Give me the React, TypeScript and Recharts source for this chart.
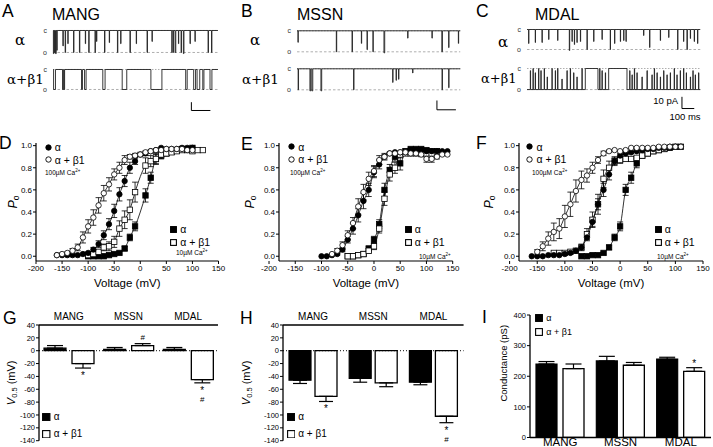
import React from 'react';
import {
  LineChart,
  Line,
  ComposedChart,
  Scatter,
  BarChart,
  Bar,
  XAxis,
  YAxis,
  ErrorBar,
  ReferenceLine,
  Legend,
  LabelList,
} from 'recharts';

const SANS = '"Liberation Sans", Arial, Helvetica, sans-serif';
const NARROW = '"Liberation Sans Narrow", "Liberation Sans", Arial, sans-serif';
const SERIF = '"DejaVu Serif", "Liberation Serif", serif';

// single-channel records: [start ms, duration ms, fraction of unitary step]
const mangAlphaEv = [[2, 3, 1.05], [8, 3, 1], [13, 4, 1.05], [20, 2, 0.9], [52, 2, 0.7], [64, 2, 1], [78, 1.5, 0.6], [108, 2, 1], [139, 2, 1], [170, 1.5, 0.6], [188, 2, 1], [221, 2, 1], [229, 1.5, 0.5], [271, 2, 1], [296, 1.5, 0.55], [339, 2, 1], [356, 1.5, 0.6], [405, 2, 1], [438, 1.5, 0.6], [495, 2, 1], [521, 1.5, 0.5], [625, 2, 1], [633, 2, 1], [643, 3, 1], [660, 1.5, 0.6], [674, 2, 1], [686, 3, 1.05], [721, 1.5, 0.6], [747, 1.5, 0.5], [816, 2, 1], [834, 2, 1]];
const mangBetaEv = [[3, 10, 1], [50, 6, 1], [58, 3, 1], [150, 5, 1], [166, 8, 1], [262, 12, 1], [364, 24, 1], [515, 58, 1], [698, 8, 1], [740, 10, 1], [758, 14, 1], [788, 6, 1], [826, 10, 1]];
const mssnAlphaEv = [[5, 1.5, 0.55], [207, 2, 1], [290, 2, 1], [339, 1.5, 0.6], [369, 1.5, 0.9], [400, 1.5, 1], [458, 4, 1.05], [583, 1.5, 0.35], [711, 1.5, 0.35], [763, 3, 1], [799, 1.5, 0.8], [850, 1.5, 0.6]];
const mssnBetaEv = [[6, 2, 1], [68, 4, 1.05], [78, 5, 1.05], [126, 4, 1.05], [298, 2, 1], [504, 1.5, 0.65], [522, 1.5, 0.55], [535, 1.5, 0.5], [609, 1.5, 0.2], [764, 2, 1], [799, 1.5, 0.9]];
const mdalAlphaEv = [[13, 2, 0.7], [67, 2, 0.65], [122, 2, 0.65], [176, 2, 0.5], [249, 2, 0.55], [344, 3, 1.05], [366, 2, 0.6], [385, 2, 0.75], [406, 2, 0.65], [434, 2, 0.6], [488, 2, 1], [542, 2, 0.6], [610, 2, 0.5], [677, 2, 1], [712, 2, 0.7], [759, 2, 0.6], [786, 2, 0.55], [805, 2, 0.6], [948, 2, 0.3], [997, 2, 0.9], [1084, 2, 0.55], [1152, 2, 0.4], [1225, 2, 1], [1273, 2, 0.6], [1301, 3, 1], [1328, 2, 0.45], [1360, 2, 0.6], [1387, 2, 0.7]];
// mostly open: these are closures
const mdalBetaEv = [[27, 2, 0.9], [49, 2, 1], [67, 2, 0.8], [94, 2, 1], [113, 2, 0.9], [140, 2, 1], [164, 2, 0.6], [203, 2, 1], [230, 2, 0.9], [249, 2, 1], [284, 2, 0.5], [325, 2, 0.9], [352, 2, 1], [379, 2, 0.8], [406, 2, 0.6], [447, 2, 1], [474, 103, 1], [591, 2, 1], [610, 2, 0.9], [637, 2, 0.8], [664, 149, 1], [835, 2, 0.9], [854, 2, 0.7], [873, 2, 1], [894, 2, 0.8], [935, 2, 0.6], [976, 2, 0.9], [1016, 2, 0.7], [1035, 2, 1], [1057, 2, 0.8], [1084, 2, 0.6], [1111, 2, 0.9], [1138, 2, 0.7], [1165, 2, 0.8], [1197, 2, 1], [1219, 2, 0.7], [1246, 2, 0.9], [1273, 2, 1], [1295, 2, 0.8], [1328, 2, 0.6], [1349, 2, 0.9], [1368, 2, 0.7], [1395, 2, 0.8]];

// unitary amplitudes (pA) and record lengths (ms)
const ampMang = [26.5, 24.1];
const ampMssn = [22.6, 22.6];
const ampMdal = [17.1, 18];
const recMang = 868;
const recMssn = 860;
const recMdal = 1409;

// Po-V: [mV, Po, sem]
const dAlpha100 = [[-160, .01, 0], [-150, .01, 0], [-140, .01, 0], [-130, .01, 0], [-120, .01, 0], [-110, .02, 0], [-100, .03, .01], [-90, .06, .02], [-80, .11, .03], [-70, .19, .04], [-60, .29, .05], [-50, .41, .06], [-40, .56, .06], [-30, .68, .05], [-20, .8, .05], [-10, .86, .03], [0, .92, .02], [10, .93, .02], [20, .95, .01], [30, .96, .01], [40, .98, 0], [50, .97, 0], [60, .97, 0], [70, .97, 0], [80, .98, 0], [90, .98, 0], [100, .98, 0]];
const dBeta100 = [[-160, .01, 0], [-150, .02, .01], [-140, .03, .01], [-130, .05, .02], [-120, .08, .03], [-110, .17, .05], [-100, .27, .06], [-90, .35, .07], [-80, .46, .07], [-70, .57, .07], [-60, .65, .06], [-50, .74, .05], [-40, .8, .05], [-30, .87, .04], [-20, .9, .02], [-10, .91, .02], [0, .92, .01], [10, .94, .01], [20, .95, .01], [30, .96, 0], [40, .96, 0], [50, .97, 0], [60, .97, 0], [70, .97, 0], [80, .97, 0], [90, .96, 0], [100, .96, 0]];
const dAlpha10 = [[-100, 0, 0], [-90, 0, 0], [-80, 0, 0], [-70, 0, 0], [-60, .01, 0], [-50, .02, 0], [-40, .03, .01], [-30, .07, .02], [-20, .17, .03], [-10, .27, .04], [10, .55, .06], [20, .71, .05], [30, .88, .04], [40, .91, .03], [50, .93, .02], [60, .95, .01], [70, .96, .01], [80, .97, 0], [90, .97, 0], [100, .98, 0]];
const dBeta10 = [[-100, .01, 0], [-90, .02, .01], [-80, .04, .02], [-70, .08, .03], [-60, .09, .04], [-50, .13, .05], [-40, .25, .07], [-30, .33, .08], [-20, .42, .09], [-10, .58, .09], [10, .82, .07], [20, .86, .05], [30, .88, .05], [40, .92, .03], [50, .93, .02], [60, .94, .02], [70, .95, .01], [80, .96, .01], [90, .96, 0], [100, .95, 0], [110, .96, 0], [120, .96, 0]];

const eAlpha100 = [[-100, 0, 0], [-90, 0, 0], [-80, .01, 0], [-70, .02, .01], [-60, .06, .02], [-50, .15, .03], [-40, .25, .05], [-30, .37, .06], [-20, .5, .07], [-10, .6, .06], [0, .76, .05], [10, .83, .04], [20, .9, .03], [30, .93, .01], [40, .94, 0], [50, .94, 0], [60, .94, 0], [70, .95, 0], [80, .95, 0], [90, .96, 0], [100, .95, 0], [110, .95, 0], [120, .95, 0], [130, .95, 0], [140, .95, 0]];
const eBeta100 = [[-80, .02, 0], [-70, .05, .02], [-60, .1, .03], [-50, .19, .04], [-40, .3, .05], [-30, .45, .07], [-20, .58, .07], [-10, .7, .06], [0, .77, .05], [10, .87, .04], [20, .9, .02], [30, .93, .01], [40, .93, 0], [50, .94, 0], [60, .94, 0], [70, .93, 0], [80, .93, .01], [90, .92, .02], [100, .88, .03], [110, .88, .03], [120, .9, .02], [130, .92, .01], [140, .92, 0]];
const eAlpha10 = [[-50, 0, 0], [-40, 0, 0], [-30, .01, 0], [-20, .02, .01], [-10, .07, .02], [0, .15, .03], [10, .29, .04], [20, .6, .06], [30, .78, .05], [40, .9, .04], [50, .84, .06], [60, .95, .02], [70, .97, .01], [80, .97, 0], [90, .97, 0], [100, .96, 0], [110, .95, 0], [120, .95, 0]];
const eBeta10 = [[-50, 0, 0], [-40, 0, 0], [-30, .01, 0], [-20, .02, .01], [-10, .05, .02], [0, .09, .03], [10, .25, .04], [20, .52, .06], [30, .74, .06], [40, .8, .05], [50, .92, .03], [60, .93, .02], [70, .93, .01], [80, .93, 0], [90, .94, 0], [100, .93, 0], [110, .93, 0], [120, .93, 0]];

const fAlpha100 = [[-160, 0, 0], [-150, 0, 0], [-140, 0, 0], [-130, .01, 0], [-120, .01, 0], [-110, .01, 0], [-100, .02, 0], [-90, .03, .01], [-80, .05, .01], [-70, .08, .02], [-60, .17, .03], [-50, .31, .04], [-40, .47, .05], [-30, .6, .06], [-20, .74, .05], [-10, .86, .03], [0, .91, .02], [10, .93, .01], [20, .94, .01], [30, .95, 0], [40, .96, 0], [50, .97, 0], [60, .97, 0], [70, .98, 0], [80, .98, 0], [90, .99, 0], [100, .99, 0], [110, .99, 0]];
const fBeta100 = [[-150, .04, .02], [-140, .09, .04], [-130, .16, .06], [-120, .22, .08], [-110, .25, .09], [-100, .36, .1], [-90, .47, .11], [-80, .59, .1], [-70, .69, .08], [-60, .73, .06], [-50, .8, .05], [-40, .87, .03], [-30, .93, .02], [-20, .95, .01], [-10, .96, 0], [0, .95, 0], [10, .96, 0], [20, .98, 0], [30, .98, 0], [40, .98, 0], [50, .98, 0], [60, .98, 0], [70, .99, 0], [80, .99, 0], [90, .99, 0], [100, .99, 0], [110, .99, 0]];
const fAlpha10 = [[-70, 0, 0], [-60, 0, 0], [-50, .01, 0], [-40, .01, 0], [-30, .03, .01], [-20, .08, .02], [-10, .17, .03], [0, .27, .04], [10, .6, .05], [20, .71, .05], [30, .84, .04], [40, .91, .02], [50, .93, .01], [60, .95, 0], [70, .96, 0], [80, .97, 0], [90, .98, 0], [100, .99, 0], [110, .99, 0]];
const fBeta10 = [[-120, .03, 0], [-110, .03, 0], [-100, .03, 0], [-90, .04, .01], [-80, .05, .02], [-70, .08, .03], [-60, .2, .05], [-50, .33, .07], [-40, .47, .09], [-30, .7, .08], [-20, .8, .06], [-10, .86, .04], [0, .87, .03], [10, .88, .02], [20, .88, .02], [30, .89, .01], [40, .91, 0], [50, .93, 0], [60, .95, 0], [70, .96, 0], [80, .97, 0]];

const vTicks = [-200, -150, -100, -50, 0, 50, 100, 150];
const poTicks = [0, 0.2, 0.4, 0.6, 0.8, 1.0];

// bar panels
const cats = ['MANG', 'MSSN', 'MDAL'];
const gAlpha = [4, 2, 2];
const gAlphaSem = [4, 3, 3];
const gBeta = [-20, 8, -45];
const gBetaSem = [7, 3, 5];
const gMarks = ['*', '#', '*#'];
const hAlpha = [-46, -43, -49];
const hAlphaSem = [5, 6, 4];
const hBeta = [-71, -50, -102];
const hBetaSem = [8, 6, 10];
const hMarks = ['*', '', '*#'];
const iAlpha = [240, 250, 256];
const iAlphaSem = [8, 15, 6];
const iBeta = [225, 236, 216];
const iBetaSem = [15, 9, 12];
const iMarks = ['', '', '*'];
const vTicks05 = [40, 20, 0, -20, -40, -60, -80, -100, -120, -140];
const gTicks = [0, 100, 200, 300, 400];

const buildTrace = (events: number[][], amp: number, T: number, openBase: boolean) => {
  const base = openBase ? -amp : 0;
  const dir = openBase ? 1 : -1;
  const pts = [{ t: 0, i: base }];
  events.forEach(([t, d, f]) => {
    const lvl = base + dir * f * amp;
    pts.push({ t, i: base }, { t, i: lvl }, { t: t + d, i: lvl }, { t: t + d, i: base });
  });
  pts.push({ t: T, i: base });
  return pts;
};

const Trace = ({ left, width, yc, ppu, amp, T, events, openBase = false, bar, padBot = 4 }: any) => {
  const padTop = 3;
  const ml = 16;
  const data = buildTrace(events, amp, T, openBase);
  const lvl = { fontSize: 7, fill: '#333', fontFamily: SANS };
  return (
    <div style={{ position: 'absolute', left: left - ml, top: yc - padTop * ppu }}>
      <LineChart width={width + ml + 1} height={(amp + padTop + padBot) * ppu} data={data} margin={{ top: 0, right: 1, bottom: 0, left: ml }}>
        <XAxis type="number" dataKey="t" domain={[0, T]} hide />
        <YAxis type="number" domain={[-(amp + padBot), padTop]} hide />
        <ReferenceLine y={0} stroke="#9a9a9a" strokeWidth={0.8} strokeDasharray="1.5 1.5" label={{ value: 'c', position: 'left', offset: 6, ...lvl }} />
        <ReferenceLine y={-amp} stroke="#9a9a9a" strokeWidth={0.8} strokeDasharray="2.5 2" label={{ value: 'o', position: 'left', offset: 6, ...lvl }} />
        <Line type="linear" dataKey="i" stroke="#222" strokeWidth={0.9} dot={false} isAnimationActive={false} />
        {bar && <ReferenceLine segment={[{ x: bar[0], y: bar[1] + 10 }, { x: bar[0], y: bar[1] }]} stroke="#000" strokeWidth={1} />}
        {bar && <ReferenceLine segment={[{ x: bar[0], y: bar[1] }, { x: bar[0] + 100, y: bar[1] }]} stroke="#000" strokeWidth={1} />}
      </LineChart>
    </div>
  );
};

const toPts = (rows: number[][]) => rows.map(([v, p, e]) => ({ v, p, e }));

const marker = (kind: string) => (props: any) => {
  const { cx, cy } = props;
  if (cx == null || cy == null) return null;
  const fill = kind[0] === 'f' ? '#000' : '#fff';
  if (kind[1] === 'c') return <circle cx={cx} cy={cy} r={2.7} fill={fill} stroke="#000" strokeWidth={0.8} />;
  return <rect x={cx - 2.7} y={cy - 2.7} width={5.4} height={5.4} fill={fill} stroke="#000" strokeWidth={0.8} />;
};

const Sym = ({ kind, s }: { kind: string; s: number }) => {
  const fill = kind[0] === 'f' ? '#000' : '#fff';
  return (
    <svg width={s + 1} height={s + 1} style={{ display: 'block', flex: 'none' }}>
      {kind[1] === 'c'
        ? <circle cx={(s + 1) / 2} cy={(s + 1) / 2} r={s / 2 - 0.3} fill={fill} stroke="#000" strokeWidth={0.9} />
        : <rect x={0.6} y={0.6} width={s - 0.2} height={s - 0.2} fill={fill} stroke="#000" strokeWidth={1.1} />}
    </svg>
  );
};

const Item = ({ x, y, kind, text, s = 6, fs = 10.5 }: any) => (
  <div style={{ position: 'absolute', left: x - (s + 1) / 2, top: y - 6, height: 12, display: 'flex', alignItems: 'center', whiteSpace: 'nowrap', fontFamily: SANS, fontSize: fs, lineHeight: '12px', color: '#000' }}>
    <Sym kind={kind} s={s} />
    <span style={{ marginLeft: 3 }}>{text}</span>
  </div>
);

const Ca = ({ x, y, conc }: any) => (
  <div style={{ position: 'absolute', left: x, top: y - 5, height: 10, lineHeight: '10px', whiteSpace: 'nowrap', fontFamily: NARROW, fontSize: 6.5, color: '#000' }}>
    {conc}µM Ca<sup style={{ fontSize: 4.5, verticalAlign: 'top', lineHeight: '6px' }}>2+</sup>
  </div>
);

const PoLegend = ({ c, ca, s, cs }: any) => (
  <div style={{ position: 'relative', width: '100%', height: '100%' }}>
    <Item x={c[0]} y={c[1]} kind="fc" text="α" />
    <Item x={c[0]} y={c[1] + 12.5} kind="oc" text="α + β1" />
    <Ca x={ca[0]} y={ca[1]} conc="100" />
    <Item x={s[0]} y={s[1]} kind="fs" text="α" />
    <Item x={s[0]} y={s[1] + 12.8} kind="os" text="α + β1" />
    <Ca x={cs[0]} y={cs[1]} conc="10" />
  </div>
);

const PoLabel = (off: number) => (props: any) => {
  const vb = props.viewBox;
  if (!vb) return null;
  const x = vb.x + vb.width - off;
  const y = vb.y + vb.height / 2;
  return (
    <text x={x} y={y} transform={`rotate(-90 ${x} ${y})`} textAnchor="middle" dominantBaseline="central" fontFamily={SANS} fontSize={12.5} fill="#000">
      <tspan fontStyle="italic">P</tspan>
      <tspan fontSize={8.5} dy={3}>o</tspan>
    </text>
  );
};

const PY = 143;
const PH = 118;

const PoV = ({ px, pw, xMin, sets, poOff, leg }: any) => {
  const yw = 44;
  const mt = 4;
  const mr = 10;
  const xh = 33;
  const tick = { fontSize: 8, fill: '#000', fontFamily: NARROW };
  return (
    <div style={{ position: 'absolute', left: px - yw, top: PY - mt }}>
      <ComposedChart width={yw + pw + mr} height={mt + PH + xh} margin={{ top: mt, right: mr, bottom: 0, left: 0 }}>
        <XAxis type="number" dataKey="v" domain={[xMin, 150]} allowDataOverflow ticks={vTicks} interval={0} height={xh} tickSize={3} tickMargin={1} axisLine={{ stroke: '#000', strokeWidth: 1.2 }} tickLine={{ stroke: '#000', strokeWidth: 1 }} tick={tick} label={{ value: 'Voltage (mV)', position: 'insideBottom', offset: 7, fontSize: 11.5, fill: '#000', fontFamily: NARROW }} />
        <YAxis type="number" dataKey="p" domain={[-0.043, 1.024]} allowDataOverflow ticks={poTicks} interval={0} width={yw} tickSize={3} tickMargin={1} tickFormatter={(t: number) => t.toFixed(1)} axisLine={{ stroke: '#000', strokeWidth: 1.2 }} tickLine={{ stroke: '#000', strokeWidth: 1 }} tick={tick} label={PoLabel(poOff)} />
        {sets.map((st: any, k: number) => (
          <Scatter key={k} data={toPts(st.rows)} dataKey="p" shape={marker(st.kind)} line={{ stroke: '#000', strokeWidth: 0.8 }} lineJointType="monotoneX" isAnimationActive={false}>
            <ErrorBar dataKey="e" direction="y" width={3} stroke="#000" strokeWidth={0.8} />
          </Scatter>
        ))}
        <Legend verticalAlign="middle" align="center" layout="horizontal" wrapperStyle={{ left: yw, top: mt, width: pw, height: PH }} content={() => <PoLegend {...leg} />} />
      </ComposedChart>
    </div>
  );
};

const oneSided = (v: number, e: number) => (v < 0 ? [e, 0] : [0, e]);
const barRows = (a: number[], ea: number[], b: number[], eb: number[], marks: string[]) =>
  cats.map((cat, k) => ({ cat, a: a[k], b: b[k], ea: oneSided(a[k], ea[k]), eb: oneSided(b[k], eb[k]), mb: marks[k] }));

const markContent = (rows: any[]) => (props: any) => {
  const row = rows[props.index];
  if (!row || !row.mb) return null;
  const vb = props.viewBox && props.viewBox.width != null ? props.viewBox : props;
  const top = Math.min(vb.y, vb.y + vb.height);
  const bot = Math.max(vb.y, vb.y + vb.height);
  const v = row.b;
  const ppu = (bot - top) / Math.abs(v);
  const e = Math.max(row.eb[0], row.eb[1]);
  const down = v < 0;
  const start = down ? bot + e * ppu + 5.5 : top - e * ppu - 6.5;
  return (
    <g>
      {row.mb.split('').map((ch: string, k: number) => {
        const cy = down ? start + k * 10.5 : start - k * 10.5;
        const fs = ch === '*' ? 10 : 8;
        const base = cy + (ch === '*' ? 0.55 * fs : 0.36 * fs);
        return (
          <text key={k} x={vb.x + vb.width / 2} y={base} textAnchor="middle" fontSize={fs} fontFamily={SANS} fill="#000">
            {ch}
          </text>
        );
      })}
    </g>
  );
};

const V05Label = (off: number) => (props: any) => {
  const vb = props.viewBox;
  if (!vb) return null;
  const x = vb.x + vb.width - off;
  const y = vb.y + vb.height / 2;
  return (
    <text x={x} y={y} transform={`rotate(-90 ${x} ${y})`} textAnchor="middle" dominantBaseline="central" fontFamily={SANS} fontSize={11} fill="#000">
      <tspan fontStyle="italic">V</tspan>
      <tspan fontSize={7.5} dy={3}>0.5</tspan>
      <tspan dy={-3}> (mV)</tspan>
    </text>
  );
};

const GLabel = (off: number, dy: number) => (props: any) => {
  const vb = props.viewBox;
  if (!vb) return null;
  const x = vb.x + vb.width - off;
  const y = vb.y + vb.height / 2 + dy;
  return (
    <text x={x} y={y} transform={`rotate(-90 ${x} ${y})`} textAnchor="middle" dominantBaseline="central" fontFamily={SANS} fontSize={9.5} fill="#000">
      Conductance (pS)
    </text>
  );
};

const BarLegend = ({ p, s, fs }: any) => (
  <div style={{ position: 'relative', width: '100%', height: '100%' }}>
    <Item x={p[0][0]} y={p[0][1]} kind="fs" text="α" s={s} fs={fs} />
    <Item x={p[1][0]} y={p[1][1]} kind="os" text="α + β1" s={s} fs={fs} />
  </div>
);

const BarPanel = ({ px, py, pw, ph, rows, domain, ticks, size, gap, topAxis, label, leg, legS, legFs, errW }: any) => {
  const yw = 46;
  const mt = topAxis ? 2 : 5;
  const xh = topAxis ? 14 : 10;
  const mr = 2;
  const mb = topAxis ? 6 : 0;
  const top = topAxis ? py - xh - mt : py - mt;
  const ax = { stroke: '#000', strokeWidth: 1.3 };
  return (
    <div style={{ position: 'absolute', left: px - yw, top }}>
      <BarChart width={yw + pw + mr} height={mt + ph + xh + mb} data={rows} margin={{ top: mt, right: mr, bottom: mb, left: 0 }} barSize={size} barGap={gap}>
        <XAxis dataKey="cat" orientation={topAxis ? 'top' : 'bottom'} height={xh} interval={0} tickLine={false} tickSize={0} tickMargin={topAxis ? 4.5 : 0.5} axisLine={ax} tick={{ fill: '#000', fontSize: topAxis ? 10 : 11.5, fontFamily: topAxis ? NARROW : SANS }} />
        <YAxis type="number" domain={domain} allowDataOverflow ticks={ticks} interval={0} width={yw} tickSize={3} tickMargin={1} axisLine={ax} tickLine={{ stroke: '#000' }} tick={{ fill: '#000', fontSize: 7.5, fontFamily: NARROW }} label={label} />
        {topAxis && <ReferenceLine y={0} stroke="#000" strokeWidth={1} strokeDasharray="1 2" />}
        <Bar dataKey="a" fill="#000" stroke="#000" strokeWidth={1.2} isAnimationActive={false}>
          <ErrorBar dataKey="ea" direction="y" width={errW} stroke="#000" strokeWidth={1.2} />
        </Bar>
        <Bar dataKey="b" fill="#fff" stroke="#000" strokeWidth={1.3} isAnimationActive={false}>
          <ErrorBar dataKey="eb" direction="y" width={errW} stroke="#000" strokeWidth={1.2} />
          <LabelList dataKey="mb" content={markContent(rows)} />
        </Bar>
        <Legend verticalAlign="middle" align="center" layout="horizontal" wrapperStyle={{ left: yw, top: topAxis ? mt + xh : mt, width: pw, height: ph + mb }} content={() => <BarLegend p={leg} s={legS} fs={legFs} />} />
      </BarChart>
    </div>
  );
};

export default function App() {
  const gRows = barRows(gAlpha, gAlphaSem, gBeta, gBetaSem, gMarks);
  const hRows = barRows(hAlpha, hAlphaSem, hBeta, hBetaSem, hMarks);
  const iRows = barRows(iAlpha, iAlphaSem, iBeta, iBetaSem, iMarks);
  const letter = { fontSize: 17.5, fontFamily: SANS, fill: '#000' };
  const title = { fontSize: 16, fontFamily: SANS, fill: '#000' };
  const greek = { fontFamily: SERIF, fill: '#000' };
  return (
    <div style={{ position: 'absolute', left: 0, top: 0, width: 713, height: 447, background: '#fff', overflow: 'hidden' }}>
      {/* A */}
      <Trace left={53.3} width={165} yc={30} ppu={0.83} amp={ampMang[0]} T={recMang} events={mangAlphaEv} />
      <Trace left={53.3} width={165} yc={69} ppu={0.83} amp={ampMang[1]} T={recMang} events={mangBetaEv} bar={[728, -49.4]} padBot={27.5} />
      {/* B */}
      <Trace left={296.7} width={163.3} yc={30.7} ppu={0.93} amp={ampMssn[0]} T={recMssn} events={mssnAlphaEv} />
      <Trace left={296.7} width={163.3} yc={68.3} ppu={0.93} amp={ampMssn[1]} T={recMssn} events={mssnBetaEv} bar={[737, -44.1]} padBot={23.5} />
      {/* C */}
      <Trace left={526.7} width={173.3} yc={30} ppu={1.17} amp={ampMdal[0]} T={recMdal} events={mdalAlphaEv} />
      <Trace left={526.7} width={173.3} yc={68.3} ppu={1.17} amp={ampMdal[1]} T={recMdal} events={mdalBetaEv} openBase bar={[1260, -34.2]} padBot={18} />

      <PoV px={35.5} pw={182.5} xMin={-200} poOff={23.5}
        sets={[{ rows: dAlpha10, kind: 'fs' }, { rows: dBeta10, kind: 'os' }, { rows: dAlpha100, kind: 'fc' }, { rows: dBeta100, kind: 'oc' }]}
        leg={{ c: [12.8, 4.3], ca: [9.5, 29.7], s: [138.2, 86.3], cs: [140.5, 109.5] }} />
      <PoV px={279.3} pw={173.7} xMin={-181} poOff={28.5}
        sets={[{ rows: eAlpha10, kind: 'fs' }, { rows: eBeta10, kind: 'os' }, { rows: eAlpha100, kind: 'fc' }, { rows: eBeta100, kind: 'oc' }]}
        leg={{ c: [12.4, 3.7], ca: [10.7, 29.7], s: [129, 86.3], cs: [139.7, 113.7] }} />
      <PoV px={519.3} pw={184} xMin={-183} poOff={30.5}
        sets={[{ rows: fAlpha10, kind: 'fs' }, { rows: fBeta10, kind: 'os' }, { rows: fAlpha100, kind: 'fc' }, { rows: fBeta100, kind: 'oc' }]}
        leg={{ c: [10.7, 3.7], ca: [12.7, 29.7], s: [139, 86.3], cs: [137.7, 113.7] }} />

      <BarPanel px={39.3} py={324.5} pw={179} ph={115.7} rows={gRows} domain={[-140, 40]} ticks={vTicks05} size={22} gap={6} topAxis
        label={V05Label(28)} leg={[[7.2, 92.5], [7.2, 109.5]]} legS={7.5} legFs={10} errW={8} />
      <BarPanel px={282.7} py={324.5} pw={180.6} ph={115.7} rows={hRows} domain={[-140, 40]} ticks={vTicks05} size={22} gap={4} topAxis
        label={V05Label(36.5)} leg={[[8.3, 92.5], [8.3, 109.5]]} legS={7.5} legFs={10} errW={7} />
      <BarPanel px={530} py={315} pw={181} ph={122.5} rows={iRows} domain={[0, 400]} ticks={gTicks} size={21} gap={6} topAxis={false}
        label={GLabel(27, -13)} leg={[[9.3, 3.3], [9.3, 16.7]]} legS={7} legFs={9} errW={8} />

      <svg width={713} height={447} style={{ position: 'absolute', left: 0, top: 0, pointerEvents: 'none' }}>
        <text x={2} y={17.3} {...letter}>A</text>
        <text x={241} y={17.3} {...letter}>B</text>
        <text x={476} y={17.3} {...letter}>C</text>
        <text x={52} y={20} {...title}>MANG</text>
        <text x={297} y={20} {...title}>MSSN</text>
        <text x={535} y={20} {...title}>MDAL</text>
        <text x={15} y={45} fontSize={15} {...greek}>α</text>
        <text x={7} y={84} fontSize={13.5} {...greek}>α+β1</text>
        <text x={250} y={45} fontSize={15} {...greek}>α</text>
        <text x={242} y={84} fontSize={13.5} {...greek}>α+β1</text>
        <text x={498} y={46.5} fontSize={15} {...greek}>α</text>
        <text x={481} y={83} fontSize={13} {...greek}>α+β1</text>
        <text x={678} y={103.5} textAnchor="end" fontSize={9.5} fontFamily={SANS}>10 pA</text>
        <text x={685} y={120} textAnchor="middle" fontSize={9.5} fontFamily={SANS}>100 ms</text>
        <text x={-1} y={149.3} {...letter}>D</text>
        <text x={241} y={150} {...letter}>E</text>
        <text x={476} y={149.3} {...letter}>F</text>
        <text x={3} y={324} {...letter}>G</text>
        <text x={240} y={324} {...letter}>H</text>
        <text x={482} y={323} {...letter}>I</text>
      </svg>
    </div>
  );
}
